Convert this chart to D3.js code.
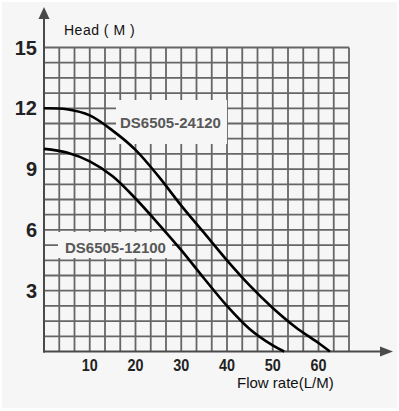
<!DOCTYPE html>
<html>
<head>
<meta charset="utf-8">
<script src="https://cdn.jsdelivr.net/npm/d3@7"></script>
<style>
    html, body { margin: 0; padding: 0; background: #fff; }
    svg { display: block; }
</style>
</head>
<body>
<svg id="chart" width="399" height="411"></svg>
<script>
var flowTicks = [ 10, 20, 30, 40, 50, 60 ];
var headTicks = [ 3, 6, 9, 12, 15 ];

var flow24120 = [ 0, 5, 10, 15, 20, 25, 30, 35, 40, 45, 50, 55, 60, 62.5 ];
var head24120 = [ 12, 11.95, 11.65, 10.9, 9.95, 8.65, 7.2, 5.85, 4.5, 3.25, 2.15, 1.2, 0.42, 0 ];

var flow12100 = [ 0, 5, 10, 15, 20, 25, 30, 35, 40, 45, 50, 52.5 ];
var head12100 = [ 10, 9.82, 9.38, 8.65, 7.55, 6.3, 5.0, 3.6, 2.25, 1.1, 0.3, 0 ];

var seriesNames = [ "DS6505-24120", "DS6505-12100" ];

var svg = d3.select( "#chart" );
var x = d3.scaleLinear().domain( [ 0, 200 / 3 ] ).range( [ 44, 349 ] );
var y = d3.scaleLinear().domain( [ 0, 15 ] ).range( [ 351.5, 47.5 ] );

function init() {
    drawBackground();
    drawGrid();
    drawLabelBoxes();
    drawAxes();
    drawCurves();
    drawTexts();
}

function drawBackground() {
    svg.append( "rect" )
        .attr( "x", 2 ).attr( "y", 2 )
        .attr( "width", 395 ).attr( "height", 406 )
        .attr( "fill", "#f6f6f6" );
}

function drawGrid() {
    var g = svg.append( "g" ).attr( "class", "grid" )
        .attr( "stroke", "#666" ).attr( "stroke-width", 1.8 );

    // 20 cells each way: 10/3 L/M and 0.75 M per cell
    d3.range( 1, 21 ).forEach( function( i ) {
        g.append( "line" )
            .attr( "x1", x( i * 10 / 3 ) ).attr( "x2", x( i * 10 / 3 ) )
            .attr( "y1", y( 0 ) ).attr( "y2", y( 15 ) );
        g.append( "line" )
            .attr( "x1", x( 0 ) ).attr( "x2", x( 200 / 3 ) )
            .attr( "y1", y( i * 0.75 ) ).attr( "y2", y( i * 0.75 ) );
    });
}

function drawLabelBoxes() {
    // plain patches that cut the grid behind the series names
    svg.append( "rect" )
        .attr( "x", 116 ).attr( "y", 100 ).attr( "width", 111 ).attr( "height", 44 )
        .attr( "fill", "#f6f6f6" );
    svg.append( "rect" )
        .attr( "x", 58 ).attr( "y", 232 ).attr( "width", 114 ).attr( "height", 26 )
        .attr( "fill", "#f6f6f6" );
}

function drawAxes() {
    var g = svg.append( "g" ).attr( "class", "axes" );

    g.append( "line" )
        .attr( "x1", x( 0 ) ).attr( "x2", x( 0 ) )
        .attr( "y1", y( 0 ) + 1 ).attr( "y2", 18 )
        .attr( "stroke", "#4a4a4a" ).attr( "stroke-width", 2 );
    g.append( "path" )
        .attr( "d", "M" + x( 0 ) + ",7 L" + ( x( 0 ) - 5.5 ) + ",19 L" + ( x( 0 ) + 5.5 ) + ",19 Z" )
        .attr( "fill", "#4a4a4a" );

    g.append( "line" )
        .attr( "x1", x( 0 ) - 1 ).attr( "x2", 381 )
        .attr( "y1", y( 0 ) ).attr( "y2", y( 0 ) )
        .attr( "stroke", "#4a4a4a" ).attr( "stroke-width", 2 );
    g.append( "path" )
        .attr( "d", "M393," + y( 0 ) + " L380," + ( y( 0 ) - 5 ) + " L380," + ( y( 0 ) + 5 ) + " Z" )
        .attr( "fill", "#4a4a4a" );

    g.selectAll( ".xt" )
        .data( flowTicks )
        .enter().append( "text" )
        .attr( "class", "xt" )
        .attr( "x", function( d ) { return x( d ); } )
        .attr( "y", 371 )
        .attr( "text-anchor", "middle" )
        .attr( "font-family", "Liberation Sans, Arial, sans-serif" )
        .attr( "font-weight", "bold" )
        .attr( "font-size", 17 )
        .attr( "textLength", 16 )
        .attr( "lengthAdjust", "spacingAndGlyphs" )
        .attr( "fill", "#222" )
        .text( function( d ) { return d; } );

    g.selectAll( ".yt" )
        .data( headTicks )
        .enter().append( "text" )
        .attr( "class", "yt" )
        .attr( "x", 37 )
        .attr( "y", function( d ) { return y( d ) + 7; } )
        .attr( "text-anchor", "end" )
        .attr( "font-family", "Liberation Sans, Arial, sans-serif" )
        .attr( "font-weight", "bold" )
        .attr( "font-size", 20 )
        .attr( "fill", "#222" )
        .text( function( d ) { return d; } );
}

function drawCurves() {
    var line = d3.line()
        .x( function( d ) { return x( d[ 0 ] ); } )
        .y( function( d ) { return y( d[ 1 ] ); } )
        .curve( d3.curveCatmullRom.alpha( 0.5 ) );

    [ [ flow24120, head24120 ], [ flow12100, head12100 ] ].forEach( function( s ) {
        svg.append( "path" )
            .datum( d3.zip( s[ 0 ], s[ 1 ] ) )
            .attr( "d", line )
            .attr( "fill", "none" )
            .attr( "stroke", "#000" )
            .attr( "stroke-width", 2.6 );
    });
}

function drawTexts() {
    var font = "Liberation Sans, Arial, sans-serif";

    svg.append( "text" )
        .attr( "x", 120 ).attr( "y", 128 )
        .attr( "font-family", font ).attr( "font-weight", "bold" )
        .attr( "font-size", 15 ).attr( "fill", "#585858" )
        .text( seriesNames[ 0 ] );
    svg.append( "text" )
        .attr( "x", 65 ).attr( "y", 253 )
        .attr( "font-family", font ).attr( "font-weight", "bold" )
        .attr( "font-size", 15 ).attr( "fill", "#585858" )
        .text( seriesNames[ 1 ] );

    svg.append( "text" )
        .attr( "x", 64 ).attr( "y", 35 )
        .attr( "font-family", font )
        .attr( "font-size", 14 ).attr( "fill", "#111" )
        .attr( "letter-spacing", 0.5 )
        .attr( "xml:space", "preserve" )
        .text( "Head ( M )" );
    svg.append( "text" )
        .attr( "x", 237 ).attr( "y", 388 )
        .attr( "font-family", font )
        .attr( "font-size", 15 ).attr( "fill", "#111" )
        .text( "Flow rate(L/M)" );
}

init();
</script>
</body>
</html>
